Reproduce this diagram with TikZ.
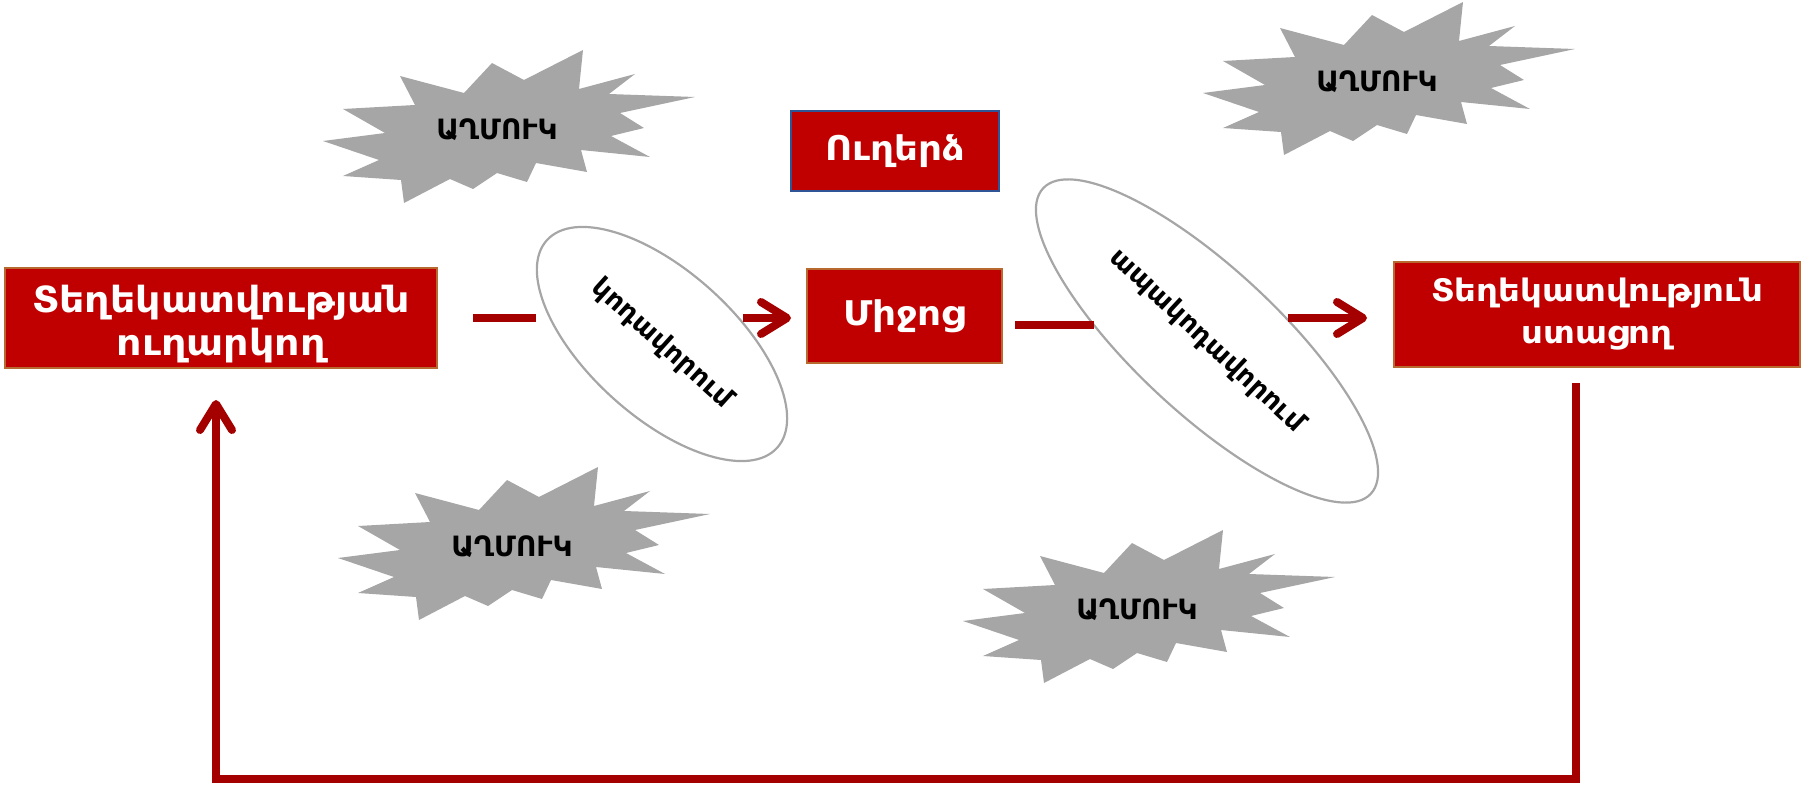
\documentclass[tikz,border=0pt]{standalone}
\usepackage{fontspec}
\setmainfont{DejaVu Sans}
\newfontfamily\boxfont{DejaVu Sans Bold}[FakeStretch=1.1]
\usetikzlibrary{shapes.geometric,arrows.meta,calc}
\definecolor{boxred}{HTML}{C00000}
\definecolor{boxedge}{HTML}{B8692F}
\definecolor{msgedge}{HTML}{2F5597}
\definecolor{linered}{HTML}{A50000}
\definecolor{burstgray}{HTML}{A6A6A6}
\definecolor{ellgray}{HTML}{A6A6A6}
\tikzset{
  redbox/.style={draw=boxedge, line width=1pt, fill=boxred, text=white, inner sep=0pt},
  ellnode/.style={ellipse, draw=ellgray, line width=1.1pt, inner sep=0pt, font=\bfseries\fontsize{13.5}{15}\selectfont},
  conn/.style={draw=linered, line width=4pt},
  arrowconn/.style={conn, -{Straight Barb[length=13pt,width=16pt,round]}},
  feedback/.style={draw=linered, line width=4pt, -{Straight Barb[length=13pt,width=16pt,round]}},
  burst/.pic={
    \fill[burstgray] (-174,11) -- (-112,3) -- (-154,-21) -- (-82,-25) -- (-97,-54) -- (-33,-37)
      -- (-5,-67) -- (27,-50) -- (86,-80) -- (82,-41) -- (138,-56) -- (112,-36) -- (198,-33)
      -- (123,-17) -- (147,-2) -- (114,6) -- (153,27) -- (84,20) -- (90,42) -- (39,33)
      -- (30,52) -- (0,43) -- (-24,59) -- (-47,49) -- (-93,73) -- (-96,50) -- (-154,46)
      -- (-118,30) -- cycle;
    \node[font=\bfseries\fontsize{14}{16}\selectfont, text=black, inner sep=0pt] (-text) at (0,0) {ԱՂՄՈՒԿ};
  }
}
\begin{document}
\begin{tikzpicture}[x=0.5pt,y=-0.5pt]
\useasboundingbox (0,0) rectangle (1801,786);

% noise bursts
\pic (n1) at (497,130) {burst};
\pic (n2) at (512,547) {burst};
\pic (n3) at (1137,610) {burst};
\pic (n4) at (1377,82) {burst};

% boxes
\node[redbox, minimum width=216pt, minimum height=50pt, font=\boxfont\fontsize{18}{21.5}\selectfont] (snd) at (221,318) {\raisebox{-8pt}[0pt][0pt]{\begin{tabular}{@{}c@{}}Տեղեկատվության\\ուղարկող\end{tabular}}};
\node[redbox, draw=msgedge, minimum width=104pt, minimum height=40pt, font=\boxfont\fontsize{17}{19}\selectfont] (msg) at (895,151) {Ուղերձ};
\node[redbox, minimum width=97.5pt, minimum height=47pt, font=\boxfont\fontsize{17}{19}\selectfont] (mid) at (904.5,316) {Միջոց};
\node[redbox, align=center, minimum width=203pt, minimum height=52.5pt, font=\boxfont\fontsize{15.5}{21}\selectfont] (rcv) at (1597,314.5) {Տեղեկատվություն\\ստացող};

% ellipses
\node[ellnode, minimum width=155pt, minimum height=73pt, rotate=-42] (e1) at (662,344) {կոդավորում};
\node[ellnode, minimum width=224pt, minimum height=72pt, rotate=-43] (e2) at (1207,341) {ապակոդավորում};

% connectors
\draw[conn] ($(snd.east)+(35,0)$) -- ($(snd.east)+(98,0)$);
\draw[arrowconn] ($(mid.west)+(-63,2)$) -- ($(mid.west)+(-15,2)$);
\draw[conn] ($(mid.east)+(12,9)$) -- ($(mid.east)+(91,9)$);
\draw[arrowconn] ($(rcv.west)+(-105,3.5)$) -- ($(rcv.west)+(-26,3.5)$);

\coordinate (fbstart) at ($(rcv.south)+(-21,15)$);
\coordinate (fbtip) at ($(snd.south)+(-5,31)$);
\draw[feedback] (fbstart) -- ++(0,396) -| (fbtip);
\end{tikzpicture}
\end{document}
